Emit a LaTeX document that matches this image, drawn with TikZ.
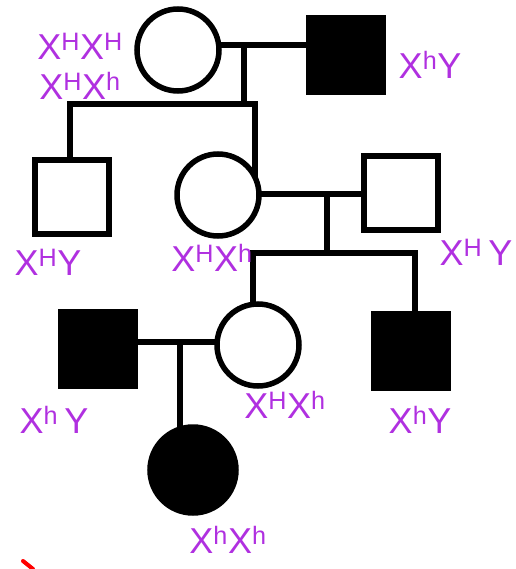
\documentclass[tikz,border=0pt]{standalone}
\usepackage{fontspec}
\setmainfont{Liberation Sans}
\usetikzlibrary{backgrounds}
\definecolor{geno}{HTML}{B030E0}
\begin{document}
\begin{tikzpicture}[x=1pt,y=-1pt,
  ln/.style={line width=5.5pt,line join=miter},
  male/.style={draw,line width=5.5pt,minimum size=74pt,inner sep=0pt,fill=white},
  maleA/.style={male,fill=black},
  female/.style={draw,circle,line width=5.5pt,minimum size=82pt,inner sep=0pt,fill=white},
  femaleA/.style={female,fill=black},
  geno/.style={text=geno,font=\fontsize{36}{36}\selectfont,inner sep=0pt}]
\useasboundingbox (0,0) rectangle (515,569);
% generation I
\node[female] (i1) at (178,50) {};
\node[maleA] (i2) at (346,55) {};
% generation II
\node[male] (ii1) at (72,197) {};
\node[female] (ii2) at (218,195) {};
\node[male] (ii3) at (401,193) {};
% generation III
\node[maleA] (iii1) at (98,349) {};
\node[female] (iii2) at (258,345) {};
\node[maleA] (iii3) at (411,351) {};
% generation IV
\node[femaleA,minimum size=86pt] (iv1) at (193,470) {};
% connectors
\coordinate (m1) at (244,45);
\coordinate (s1) at (244,104);
\coordinate (s1l) at (70,104);
\coordinate (s1r) at (255,104);
\coordinate (m2) at (327,194);
\coordinate (s2) at (327,253);
\coordinate (s2l) at (253,253);
\coordinate (s2r) at (415,253);
\coordinate (m3) at (180,342);
\begin{scope}[on background layer]
\draw[ln] (i1.center |- m1) -- (i2.center |- m1);
\draw[ln] (m1) -- (s1);
\draw[ln] (s1l |- ii1.center) -- (s1l) -- (s1r) -- (s1r |- ii2.center);
\draw[ln] (ii2.center |- m2) -- (ii3.center |- m2);
\draw[ln] (m2) -- (s2);
\draw[ln] (s2l |- iii2.center) -- (s2l) -- (s2r) -- (s2r |- iii3.center);
\draw[ln] (iii1.center |- m3) -- (iii2.center |- m3);
\draw[ln] (m3) -- (m3 |- iv1.center);
\end{scope}
% genotypes
\node[geno] (g1) at (80,46) {X\textsuperscript{H}X\textsuperscript{H}};
\node[geno] (g2) at (80,86) {X\textsuperscript{H}X\textsuperscript{h}};
\node[geno] (g3) at (430,65) {X\textsuperscript{h}Y};
\node[geno] (g4) at (48,262) {X\textsuperscript{H}Y};
\node[geno] (g5) at (212,258) {X\textsuperscript{H}X\textsuperscript{h}};
\node[geno] (g6) at (476,252) {X\textsuperscript{H}\,Y};
\node[geno] (g7) at (54,420) {X\textsuperscript{h}\,Y};
\node[geno] (g8) at (285,405) {X\textsuperscript{H}X\textsuperscript{h}};
\node[geno] (g9) at (420,420) {X\textsuperscript{h}Y};
\node[geno] (g10) at (228,540) {X\textsuperscript{h}X\textsuperscript{h}};
% stray red mark
\coordinate (r1) at (23,561);
\coordinate (r2) at (33,569);
\draw[red,line width=4pt,line cap=round] (r1) -- (r2);
\end{tikzpicture}
\end{document}
